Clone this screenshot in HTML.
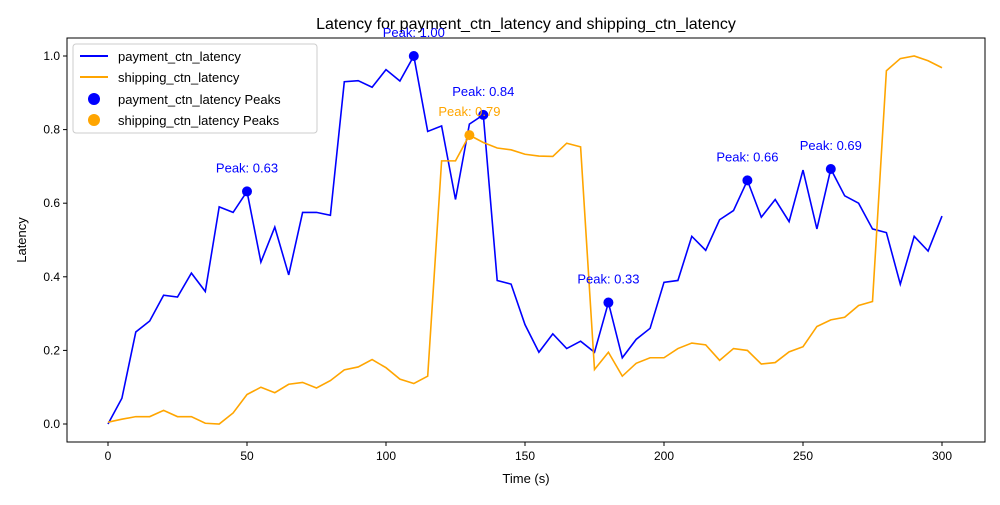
<!DOCTYPE html>
<html><head><meta charset="utf-8"><style>
body{margin:0;background:#fff}
svg{font-family:"Liberation Sans","DejaVu Sans",sans-serif}
</style></head><body>
<svg id="chart" width="1000" height="500" xmlns="http://www.w3.org/2000/svg">
<rect width="1000" height="500" fill="#fff"/>
<text x="526" y="29" font-size="16" text-anchor="middle">Latency for payment_ctn_latency and shipping_ctn_latency</text>
<g id="plot"></g>
<text x="526" y="483" font-size="13" text-anchor="middle">Time (s)</text>
<text transform="translate(26,240) rotate(-90)" font-size="13" text-anchor="middle">Latency</text>
<g>
<rect x="73" y="44" width="244" height="89" rx="3" fill="#fff" stroke="#ccc"/>
<line x1="80" y1="56" x2="108" y2="56" stroke="blue" stroke-width="2"/>
<text x="118" y="61" font-size="13">payment_ctn_latency</text>
<line x1="80" y1="77" x2="108" y2="77" stroke="orange" stroke-width="2"/>
<text x="118" y="82" font-size="13">shipping_ctn_latency</text>
<circle cx="94" cy="99" r="6" fill="blue"/>
<text x="118" y="104" font-size="13">payment_ctn_latency Peaks</text>
<circle cx="94" cy="120" r="6" fill="orange"/>
<text x="118" y="125" font-size="13">shipping_ctn_latency Peaks</text>
</g>
</svg>
<script>
const times=[];for(let t=0;t<=300;t+=5)times.push(t);
const payment=[0.0,0.07,0.25,0.28,0.35,0.345,0.41,0.36,0.59,0.575,0.632,0.44,0.535,0.405,0.575,0.575,0.567,0.93,0.933,0.915,0.963,0.932,1.0,0.795,0.81,0.61,0.815,0.84,0.39,0.38,0.27,0.195,0.245,0.205,0.225,0.195,0.33,0.18,0.23,0.26,0.385,0.39,0.51,0.472,0.555,0.58,0.662,0.562,0.61,0.55,0.69,0.53,0.693,0.62,0.60,0.53,0.52,0.38,0.51,0.47,0.565];
const shipping=[0.005,0.013,0.02,0.02,0.037,0.02,0.02,0.002,0.0,0.03,0.08,0.10,0.085,0.108,0.113,0.098,0.118,0.147,0.155,0.175,0.153,0.122,0.11,0.13,0.715,0.715,0.785,0.765,0.75,0.745,0.733,0.728,0.727,0.763,0.753,0.148,0.195,0.13,0.165,0.18,0.18,0.205,0.22,0.215,0.173,0.205,0.2,0.163,0.167,0.196,0.21,0.265,0.283,0.29,0.322,0.333,0.96,0.993,1.0,0.987,0.968];
const paymentPeaks=[50,110,135,180,230,260];
const shippingPeaks=[130];
const xTicks=[0,50,100,150,200,250,300];
const yTicks=[0.0,0.2,0.4,0.6,0.8,1.0];
const L=67,R=985,T=38,B=442;
const X=t=>108+t*(942-108)/300;
const Y=v=>424-v*(424-56);
const NS="http://www.w3.org/2000/svg";
const g=document.getElementById('plot');
function mk(tag,attrs,parent){const e=document.createElementNS(NS,tag);for(const k in attrs)e.setAttribute(k,attrs[k]);(parent||g).appendChild(e);return e;}
let fr=mk('rect',{x:L,y:T,width:R-L,height:B-T,fill:'none',stroke:'#000','stroke-width':1});


xTicks.forEach(t=>{mk('line',{x1:X(t),x2:X(t),y1:B,y2:B+4,stroke:'#000'});
const tx=mk('text',{x:X(t),y:B+18,'font-size':12,'text-anchor':'middle'});tx.textContent=t;

});
yTicks.forEach(v=>{mk('line',{x1:L-4,x2:L,y1:Y(v),y2:Y(v),stroke:'#000'});
const tx=mk('text',{x:L-7,y:Y(v)+4,'font-size':12,'text-anchor':'end'});tx.textContent=v.toFixed(1);

});
function line(vals,color,name){const p=mk('polyline',{points:vals.map((v,i)=>X(times[i])+','+Y(v)).join(' '),fill:'none',stroke:color,'stroke-width':1.6});

}
line(payment,'blue','payment-line');
line(shipping,'orange','shipping-line');
function peaks(pk,vals,color,name){pk.forEach(t=>{const v=vals[times.indexOf(t)];
const c=mk('circle',{cx:X(t),cy:Y(v),r:5,fill:color});


const tx=mk('text',{x:X(t),y:Y(v)-19,'font-size':13,'text-anchor':'middle',fill:color});tx.textContent='Peak: '+v.toFixed(2);

});}
peaks(paymentPeaks,payment,'blue','payment-peak');
peaks(shippingPeaks,shipping,'orange','shipping-peak');
</script>
</body></html>
